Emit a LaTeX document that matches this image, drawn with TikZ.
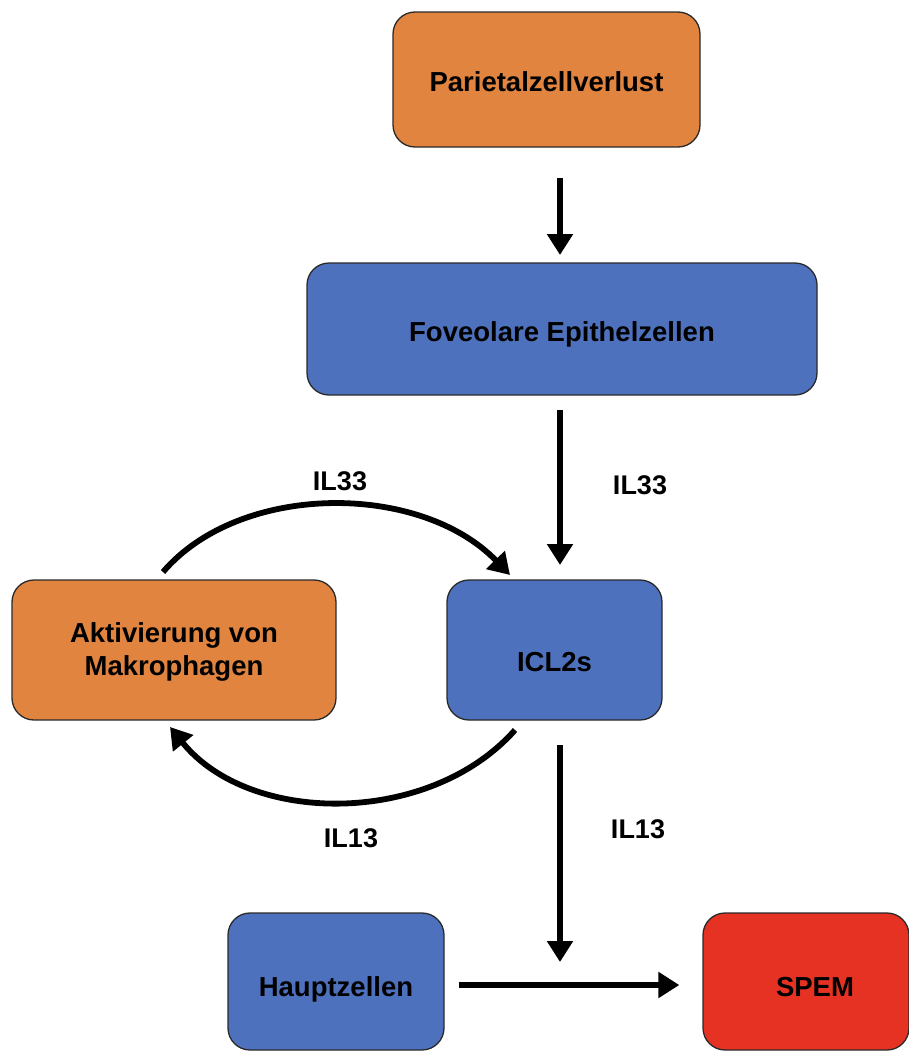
\documentclass[tikz,border=0pt]{standalone}
\usepackage{fontspec}
\setmainfont{Liberation Sans}
\usetikzlibrary{arrows.meta,calc}
\definecolor{boxorange}{HTML}{E0843F}
\definecolor{boxblue}{HTML}{4E71BE}
\definecolor{boxred}{HTML}{E53223}
\definecolor{edgegray}{HTML}{2A2A2A}
\newcommand\txtdown[2]{\raisebox{0pt}[\dimexpr\height+#1\relax][\depth]{#2}}
\tikzset{
  box/.style={draw=edgegray, line width=1.3pt, rounded corners=22pt, inner sep=0pt,
    align=center, font=\fontsize{27.5}{33}\selectfont\bfseries},
  obox/.style={box, fill=boxorange},
  bbox/.style={box, fill=boxblue},
  rbox/.style={box, fill=boxred},
  arr/.style={line width=5.8pt, -{Triangle[width=25pt,length=21pt]}},
  lbl/.style={font=\fontsize{27}{32}\selectfont\bfseries, inner sep=0pt},
}
\begin{document}
\begin{tikzpicture}[x=1pt,y=-1pt]
\useasboundingbox (0,0) rectangle (908,1052);
\node[obox, minimum width=307pt, minimum height=135pt] (P) at (546.5,79.5) {\txtdown{4pt}{Parietalzellverlust}};
\node[bbox, minimum width=510pt, minimum height=132pt] (F) at (562,329) {\txtdown{10pt}{Foveolare Epithelzellen}};
\node[obox, minimum width=324pt, minimum height=140pt] (A) at (174,650) {\txtdown{4pt}{\shortstack{Aktivierung von\\[4pt]Makrophagen}}};
\node[bbox, minimum width=215pt, minimum height=140pt] (I) at (554.5,650) {\txtdown{24pt}{ICL2s}};
\node[bbox, minimum width=216pt, minimum height=137pt] (H) at (336,981.5) {\txtdown{16pt}{Hauptzellen}};
\node[rbox, minimum width=206pt, minimum height=137pt] (S) at (806,981.5) {\txtdown{12pt}{\hspace*{18pt}SPEM}};

\coordinate (a1) at (163,572);
\coordinate (i1) at (510,575);
\coordinate (i2) at (515,730);
\coordinate (a2) at (170,727);
\coordinate (j) at (560,962);
\coordinate (ptop) at (560,178);
\coordinate (ftop) at (560,255);
\coordinate (fbot) at (560,410);
\coordinate (itop) at (560,565);
\coordinate (ibot) at (560,745);

\draw[arr] (ptop) -- (ftop);
\draw[arr] (fbot) -- (itop);
\draw[arr] (ibot) -- (j);
\draw[arr, shorten <=14pt, shorten >=23pt] (H.east |- 0,985) -- (S.west |- 0,985);
\draw[arr] (a1) .. controls (240,482) and (420,482) .. (i1);
\draw[arr] (i2) .. controls (430,826) and (250,826) .. (a2);

\node[lbl] (l1) at (340,481) {IL33};
\node[lbl] (l2) at (640,485) {IL33};
\node[lbl] (l3) at (351,838) {IL13};
\node[lbl] (l4) at (638,829) {IL13};
\end{tikzpicture}
\end{document}
